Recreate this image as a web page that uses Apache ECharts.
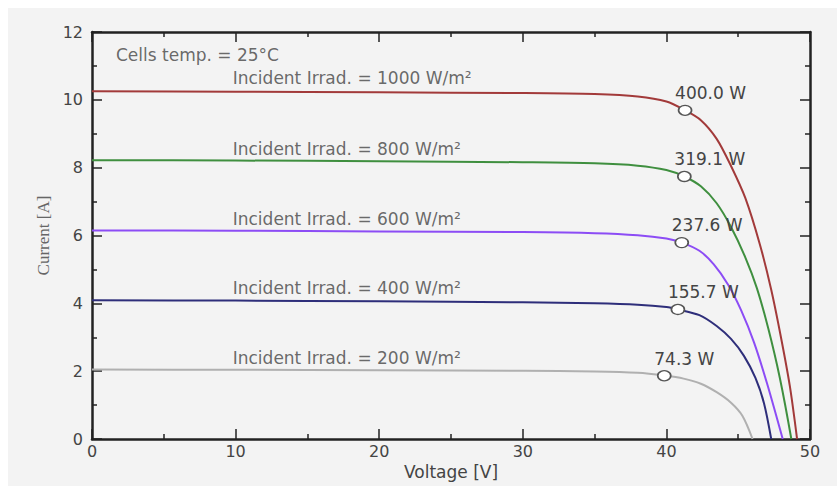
<!DOCTYPE html>
<html>
<head>
<meta charset="utf-8">
<script src="https://cdn.jsdelivr.net/npm/echarts@6/dist/echarts.min.js"></script>
<style>
html,body{margin:0;padding:0;background:#ffffff;width:837px;height:486px;overflow:hidden;}
#chart{position:absolute;left:8px;top:8px;width:829px;height:478px;background:#f3f3f3;}
</style>
</head>
<body>
<div id="chart"></div>
<script>
// I-V curves: [voltage V, current A]
const curve1000 = [[0,10.25],[10,10.24],[20,10.22],[30,10.2],[35,10.17],[38,10.1],[40,9.95],[41.3,9.69],[42.4,9.4],[43.5,8.85],[44.5,8.05],[45.5,7.1],[46.5,5.75],[47.3,4.4],[48.0,2.95],[48.6,1.55],[49.1,0]];
const curve800  = [[0,8.22],[10,8.21],[20,8.19],[30,8.16],[35,8.13],[38,8.06],[40,7.93],[41.25,7.74],[42.4,7.45],[43.5,6.95],[44.5,6.25],[45.5,5.35],[46.3,4.45],[47.1,3.25],[47.9,1.8],[48.7,0]];
const curve600  = [[0,6.15],[10,6.14],[20,6.12],[30,6.1],[35,6.07],[38,6.01],[40,5.91],[41.07,5.79],[42.3,5.55],[43.3,5.15],[44.3,4.55],[45.2,3.8],[46.1,2.85],[47.0,1.65],[48.1,0]];
const curve400  = [[0,4.09],[10,4.08],[20,4.06],[30,4.03],[35,4.0],[38,3.96],[40,3.89],[40.8,3.82],[42.3,3.65],[43.5,3.33],[44.5,2.95],[45.4,2.45],[46.2,1.8],[46.8,1.05],[47.3,0]];
const curve200  = [[0,2.05],[10,2.04],[20,2.03],[30,2.01],[35,1.99],[38,1.95],[39.85,1.87],[41.2,1.78],[42.4,1.63],[43.5,1.38],[44.5,1.07],[45.3,0.68],[46.0,0]];

// maximum power points
const mppV = [41.3, 41.25, 41.07, 40.8, 39.85];
const mppI = [9.69, 7.74, 5.79, 3.82, 1.865];
const mppLabels = ['400.0 W', '319.1 W', '237.6 W', '155.7 W', '74.3 W'];

// annotations
const irradLabels = ['Incident Irrad. = 1000 W/m²', 'Incident Irrad. = 800 W/m²', 'Incident Irrad. = 600 W/m²', 'Incident Irrad. = 400 W/m²', 'Incident Irrad. = 200 W/m²'];
const irradLabelV = 9.8;
const irradLabelI = [10.64, 8.56, 6.49, 4.44, 2.4];
const tempLabel = 'Cells temp. = 25°C';
const tempLabelPos = [1.67, 11.32];

const xTicks = {min: 0, max: 50, interval: 10};
const yTicks = {min: 0, max: 12, interval: 2};

const curveColors = ['#a23a3a', '#3f8f3f', '#8c4cf5', '#2e2e7a', '#b0b0b0'];
const curves = [curve1000, curve800, curve600, curve400, curve200];

const FONT = 'DejaVu Sans';
const axisCol = '#222';

function axisBase(extra) {
  return Object.assign({
    type: 'value',
    axisLine: {show: true, onZero: false, lineStyle: {color: axisCol, width: 2.5}},
    axisTick: {show: true, inside: true, length: 10, lineStyle: {color: axisCol, width: 1.5}},
    minorTick: {show: true, splitNumber: 2, length: 5, lineStyle: {color: axisCol, width: 1.5}},
    splitLine: {show: false},
    minorSplitLine: {show: false}
  }, extra);
}

const series = curves.map((c, i) => ({
  type: 'line',
  data: c,
  smooth: 0.3,
  showSymbol: false,
  lineStyle: {color: curveColors[i], width: 2},
  silent: true,
  z: 2
}));

series.push({
  type: 'scatter',
  data: mppV.map((v, i) => ({value: [v, mppI[i]], name: mppLabels[i]})),
  symbol: 'circle',
  symbolSize: [13, 10],
  itemStyle: {color: '#ffffff', borderColor: '#555', borderWidth: 1.5, opacity: 1},
  label: {
    show: true, position: 'top', align: 'left', distance: 3, offset: [-10, 0],
    formatter: p => p.name, fontFamily: FONT, fontSize: 17, color: '#444'
  },
  z: 5
});

const annData = irradLabels.map((t, i) => ({value: [irradLabelV, irradLabelI[i]], name: t}));
annData.push({value: tempLabelPos, name: tempLabel});
series.push({
  type: 'scatter',
  data: annData,
  symbolSize: 0,
  label: {
    show: true, position: 'right', distance: 0,
    formatter: p => p.name, fontFamily: FONT, fontSize: 17, color: '#444'
  },
  silent: true,
  z: 6
});

const chart = echarts.init(document.getElementById('chart'), null, {renderer: 'svg'});
chart.setOption({
  animation: false,
  backgroundColor: '#f3f3f3',
  grid: {left: 84, right: 27, top: 24, bottom: 47, containLabel: false},
  xAxis: [
    axisBase({
      position: 'bottom', min: xTicks.min, max: xTicks.max, interval: xTicks.interval,
      axisLabel: {fontFamily: FONT, fontSize: 16, color: '#444', margin: 4},
      name: 'Voltage [V]', nameLocation: 'middle', nameGap: 21,
      nameTextStyle: {fontFamily: FONT, fontSize: 17, color: '#444'}
    }),
    axisBase({
      position: 'top', min: xTicks.min, max: xTicks.max, interval: xTicks.interval,
      axisLabel: {show: false}
    })
  ],
  yAxis: [
    axisBase({
      position: 'left', min: yTicks.min, max: yTicks.max, interval: yTicks.interval,
      axisLabel: {fontFamily: FONT, fontSize: 16, color: '#444', margin: 9},
      name: 'Current [A]', nameLocation: 'middle', nameRotate: 90, nameGap: 38,
      nameTextStyle: {fontFamily: 'Liberation Serif', fontSize: 17, color: '#666'}
    }),
    axisBase({
      position: 'right', min: yTicks.min, max: yTicks.max, interval: yTicks.interval,
      axisLabel: {show: false}
    })
  ],
  series: series
});
</script>
</body>
</html>
